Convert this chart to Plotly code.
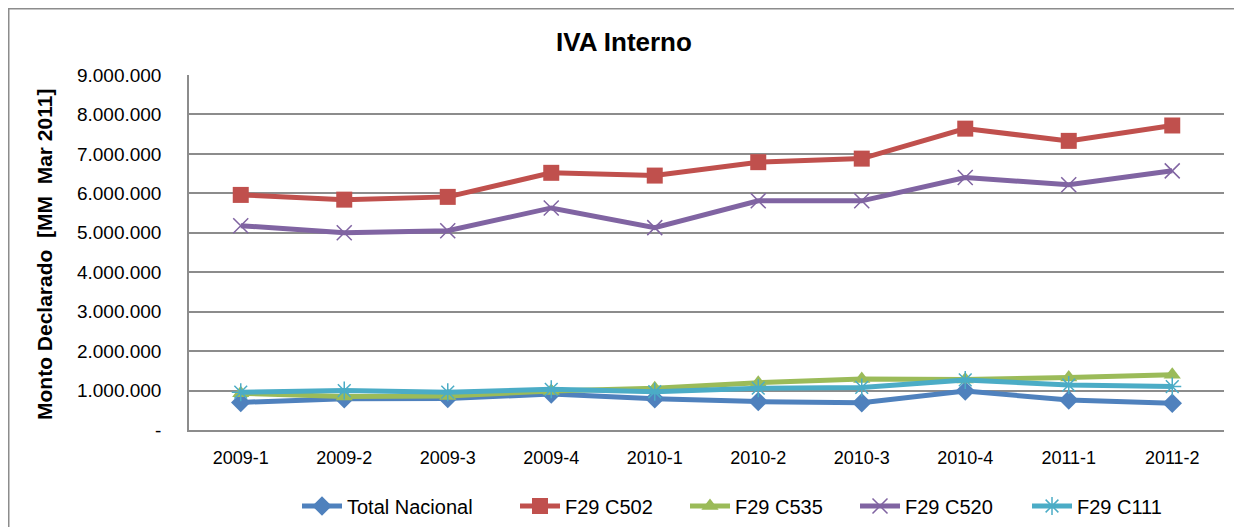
import plotly.graph_objects as go

categories = ["2009-1", "2009-2", "2009-3", "2009-4", "2010-1", "2010-2", "2010-3", "2010-4", "2011-1", "2011-2"]
total_nacional = [700000, 790000, 800000, 910000, 790000, 720000, 690000, 990000, 760000, 680000]
f29_c502 = [5960000, 5840000, 5910000, 6520000, 6450000, 6790000, 6880000, 7640000, 7330000, 7720000]
f29_c535 = [930000, 850000, 860000, 990000, 1060000, 1200000, 1290000, 1280000, 1330000, 1400000]
f29_c520 = [5180000, 5000000, 5050000, 5630000, 5130000, 5810000, 5810000, 6400000, 6220000, 6570000]
f29_c111 = [960000, 1000000, 960000, 1030000, 970000, 1060000, 1080000, 1270000, 1140000, 1100000]

y_ticks = [0, 1000000, 2000000, 3000000, 4000000, 5000000, 6000000, 7000000, 8000000, 9000000]
y_ticktext = ["-", "1.000.000", "2.000.000", "3.000.000", "4.000.000", "5.000.000",
              "6.000.000", "7.000.000", "8.000.000", "9.000.000"]

series = [
    ("Total Nacional", total_nacional, "#4F81BD", dict(symbol="diamond", size=15)),
    ("F29 C502", f29_c502, "#C0504D", dict(symbol="square", size=16)),
    ("F29 C535", f29_c535, "#9BBB59", dict(symbol="triangle-up", size=15)),
    ("F29 C520", f29_c520, "#8064A2", dict(symbol="x-thin", size=15, line=dict(width=1.5, color="#8064A2"))),
    ("F29 C111", f29_c111, "#4BACC6", dict(symbol="asterisk", size=15, line=dict(width=1.5, color="#4BACC6"))),
]
legend_text_x = [347, 565, 735, 905, 1077]  # page x where each legend label starts

FONT = "Liberation Sans"
OFF = 8  # page body margin
W, H = 1242 - OFF, 527 - OFF
L, R, T, B = 189 - OFF, 1224 - OFF, 75 - OFF, 430 - OFF
PW, PH = R - L, B - T


def px(xp):
    return (xp - OFF - L) / PW


def py(yp):
    return (B - (yp - OFF)) / PH


fig = go.Figure()
legend_layouts = {}
for i, (name, vals, color, mk) in enumerate(series):
    lname = "legend" if i == 0 else f"legend{i + 1}"
    fig.add_trace(go.Scatter(
        x=categories, y=vals, name=name, mode="lines+markers",
        line=dict(color=color, width=5),
        marker=dict(color=color, **mk),
        legend=lname,
    ))
    legend_layouts[lname] = dict(
        orientation="h", x=px(legend_text_x[i] - 50), xanchor="left", y=py(506), yanchor="middle",
        font=dict(family=FONT, size=20, color="black"), bgcolor="rgba(0,0,0,0)", itemwidth=40,
    )

fig.update_layout(
    width=W, height=H,
    margin=dict(l=L, r=W - R, t=T, b=H - B, autoexpand=False),
    paper_bgcolor="white", plot_bgcolor="white",
    font=dict(family=FONT, size=18, color="black"),
    title=dict(text="<b>IVA Interno</b>", x=px(624), xref="paper", xanchor="center",
               y=1 - (42 - OFF) / H, yanchor="middle",
               font=dict(family=FONT, size=26, color="black")),
    showlegend=True,
    xaxis=dict(type="category", range=[-0.5, 9.5], showgrid=False, showline=True,
               linecolor="#8C8C8C", linewidth=1.5, ticks="outside", ticklen=11, tickcolor="rgba(0,0,0,0)",
               tickfont=dict(size=18), automargin=False),
    yaxis=dict(range=[0, 9000000], tickvals=y_ticks, ticktext=y_ticktext, showgrid=True,
               gridcolor="#8C8C8C", gridwidth=1.5, showline=True, linecolor="#8C8C8C", linewidth=1.5,
               zeroline=False, ticks="outside", ticklen=22, tickcolor="rgba(0,0,0,0)",
               tickfont=dict(size=19), automargin=False),
    separators=",.",
    **legend_layouts,
)

# y-axis title
fig.add_annotation(text="<b>Monto Declarado  [MM  Mar 2011]</b>", xref="paper", yref="paper",
                   x=px(44), y=py(255), xanchor="center", yanchor="middle",
                   textangle=-90, showarrow=False, font=dict(family=FONT, size=21, color="black"))

# outer chart frame
fig.add_shape(type="rect", xref="paper", yref="paper",
              x0=(0.75 - L) / PW, x1=(W + 20 - L) / PW, y0=(B - H - 20) / PH, y1=(B - 0.75) / PH,
              line=dict(color="#8C8C8C", width=1.5), fillcolor="rgba(0,0,0,0)", layer="below")

fig.write_html("out.html")
